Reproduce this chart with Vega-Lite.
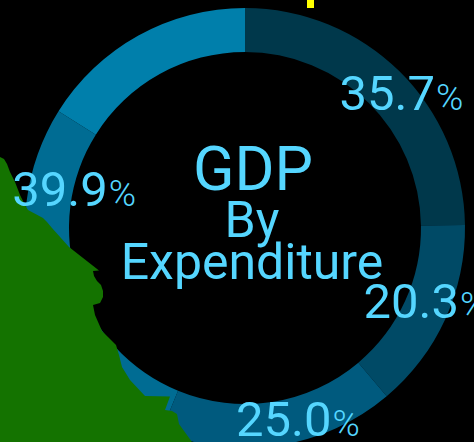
{"$schema":"https://vega.github.io/schema/vega-lite/v6.json","width":458,"height":428,"autosize":"none","padding":{"left":16,"top":14,"right":0,"bottom":0},"background":"#000000","view":{"stroke":null},
"config":{"text":{"color":"#55d6ff","baseline":"alphabetic","font":"Roboto"},"axis":{"disable":true}},
"datasets":{"slices":[{"rank":1,"item":"a","value":35.7,"pct":"%"},{"rank":2,"item":"b","value":20.3,"pct":"%"},{"rank":3,"item":"c","value":25.0,"pct":"%"},{"rank":4,"item":"d","value":39.9,"pct":"%"},{"rank":5,"item":"e","value":23.2,"pct":"%"}],
"blob":[{"x":0,"y":157},{"x":4,"y":159},{"x":7,"y":164},{"x":10,"y":172},{"x":15,"y":182},{"x":20,"y":195},{"x":25,"y":205},{"x":28,"y":210},{"x":43,"y":218},{"x":47,"y":222},{"x":52,"y":228},{"x":69,"y":247},{"x":99,"y":270.5},{"x":93,"y":271},{"x":94,"y":276},{"x":97,"y":281},{"x":101,"y":285},{"x":103,"y":291},{"x":103,"y":297},{"x":100,"y":303},{"x":93,"y":305},{"x":95,"y":315},{"x":102,"y":331},{"x":108,"y":337},{"x":116,"y":345},{"x":119,"y":355},{"x":122,"y":367},{"x":130,"y":380},{"x":145,"y":396},{"x":170,"y":396.5},{"x":165,"y":410},{"x":172,"y":411},{"x":177,"y":414},{"x":179,"y":424},{"x":192,"y":442}],
"marker":[{"x0":307,"x1":314,"y0":0,"y1":8}],
"titles":[{"t":"GDP","x":253,"y":190,"k":"big"},{"t":"By","x":252,"y":237,"k":"mid"},{"t":"Expenditure","x":252,"y":279,"k":"mid"}]},
"layer":[
{"data":{"name":"slices"},"transform":[{"stack":"value","as":["v0","v1"],"sort":[{"field":"rank"}]}],"mark":{"type":"arc","innerRadius":176,"outerRadius":220},"encoding":{"theta":{"field":"v0","type":"quantitative","scale":{"domain":[0,144.1]}},"theta2":{"field":"v1"},"color":{"field":"item","type":"nominal","legend":null,"scale":{"domain":["a","b","c","d","e"],"range":["#00384b","#004a66","#005a7e","#006c93","#007fab"]}}}},
{"data":{"name":"blob"},"mark":{"type":"area","orient":"horizontal","color":"#147300"},"encoding":{"y":{"field":"y","type":"quantitative","scale":{"domain":[442,14],"nice":false,"zero":false}},"x":{"field":"x","type":"quantitative","scale":{"domain":[16,474],"nice":false,"zero":false}},"x2":{"datum":-5}}},
{"data":{"name":"marker"},"mark":{"type":"rect","color":"#ffff00"},"encoding":{"x":{"field":"x0","type":"quantitative"},"x2":{"field":"x1"},"y":{"field":"y0","type":"quantitative"},"y2":{"field":"y1"}}},
{"data":{"name":"titles"},"transform":[{"filter":"datum.k=='big'"}],"mark":{"type":"text","fontWeight":400,"fontSize":61,"align":"center"},"encoding":{"text":{"field":"t"},"x":{"field":"x","type":"quantitative"},"y":{"field":"y","type":"quantitative"}}},
{"data":{"name":"titles"},"transform":[{"filter":"datum.k=='mid'"}],"mark":{"type":"text","fontWeight":400,"fontSize":50,"align":"center"},"encoding":{"text":{"field":"t"},"x":{"field":"x","type":"quantitative"},"y":{"field":"y","type":"quantitative"}}},
{"data":{"name":"slices"},"transform":[{"stack":"value","as":["v0","v1"],"sort":[{"field":"rank"}]},{"filter":"datum.item=='a'"}],"mark":{"type":"text","fontSize":49,"align":"right","radius":198,"dx":190,"dy":80},"encoding":{"theta":{"field":"v0","type":"quantitative"},"text":{"field":"value","format":".1f"}}},
{"data":{"name":"slices"},"transform":[{"stack":"value","as":["v0","v1"],"sort":[{"field":"rank"}]},{"filter":"datum.item=='a'"}],"mark":{"type":"text","fontSize":37,"fontWeight":300,"align":"left","radius":198,"dx":191,"dy":80},"encoding":{"theta":{"field":"v0","type":"quantitative"},"text":{"field":"pct"}}},
{"data":{"name":"slices"},"transform":[{"stack":"value","as":["v0","v1"],"sort":[{"field":"rank"}]},{"filter":"datum.item=='b'"}],"mark":{"type":"text","fontSize":49,"align":"right","radius":198,"dx":16,"dy":93},"encoding":{"theta":{"field":"v0","type":"quantitative"},"text":{"field":"value","format":".1f"}}},
{"data":{"name":"slices"},"transform":[{"stack":"value","as":["v0","v1"],"sort":[{"field":"rank"}]},{"filter":"datum.item=='b'"}],"mark":{"type":"text","fontSize":37,"fontWeight":300,"align":"left","radius":198,"dx":17,"dy":93},"encoding":{"theta":{"field":"v0","type":"quantitative"},"text":{"field":"pct"}}},
{"data":{"name":"slices"},"transform":[{"stack":"value","as":["v0","v1"],"sort":[{"field":"rank"}]},{"filter":"datum.item=='c'"}],"mark":{"type":"text","fontSize":49,"align":"right","radius":198,"dx":-41,"dy":56.5},"encoding":{"theta":{"field":"v0","type":"quantitative"},"text":{"field":"value","format":".1f"}}},
{"data":{"name":"slices"},"transform":[{"stack":"value","as":["v0","v1"],"sort":[{"field":"rank"}]},{"filter":"datum.item=='c'"}],"mark":{"type":"text","fontSize":37,"fontWeight":300,"align":"left","radius":198,"dx":-40,"dy":56.5},"encoding":{"theta":{"field":"v0","type":"quantitative"},"text":{"field":"pct"}}},
{"data":{"name":"slices"},"transform":[{"stack":"value","as":["v0","v1"],"sort":[{"field":"rank"}]},{"filter":"datum.item=='d'"}],"mark":{"type":"text","fontSize":49,"align":"right","radius":198,"dx":-62,"dy":-205},"encoding":{"theta":{"field":"v0","type":"quantitative"},"text":{"field":"value","format":".1f"}}},
{"data":{"name":"slices"},"transform":[{"stack":"value","as":["v0","v1"],"sort":[{"field":"rank"}]},{"filter":"datum.item=='d'"}],"mark":{"type":"text","fontSize":37,"fontWeight":300,"align":"left","radius":198,"dx":-61,"dy":-205},"encoding":{"theta":{"field":"v0","type":"quantitative"},"text":{"field":"pct"}}},
{"data":{"name":"slices"},"transform":[{"stack":"value","as":["v0","v1"],"sort":[{"field":"rank"}]},{"filter":"datum.item=='e'"}],"mark":{"type":"text","fontSize":49,"align":"right","radius":198,"dx":104,"dy":-268},"encoding":{"theta":{"field":"v0","type":"quantitative"},"text":{"field":"value","format":".1f"}}},
{"data":{"name":"slices"},"transform":[{"stack":"value","as":["v0","v1"],"sort":[{"field":"rank"}]},{"filter":"datum.item=='e'"}],"mark":{"type":"text","fontSize":37,"fontWeight":300,"align":"left","radius":198,"dx":105,"dy":-268},"encoding":{"theta":{"field":"v0","type":"quantitative"},"text":{"field":"pct"}}}
]}
